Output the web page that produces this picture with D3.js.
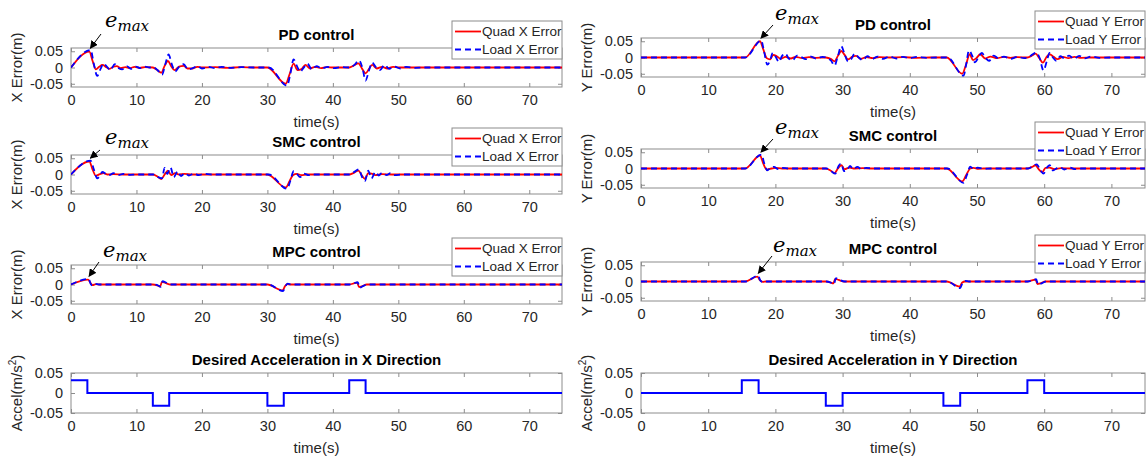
<!DOCTYPE html>
<html>
<head>
<meta charset="utf-8">
<script src="https://cdn.jsdelivr.net/npm/d3@7"></script>
<style>
  html, body { margin: 0; padding: 0; background: #fff; }
  svg { display: block; font-family: "Liberation Sans", Arial, sans-serif; }
</style>
</head>
<body>
<svg id="chart" width="1148" height="465"></svg>
<script>
// ---------------- DATA ----------------
const xTicks = [0, 10, 20, 30, 40, 50, 60, 70];
const yTicks = [-0.05, 0, 0.05];
const yTickLabels = ["-0.05", "0", "0.05"];
const titles = ["PD control", "SMC control", "MPC control"];
const accelTitles = ["Desired Acceleration in X Direction", "Desired Acceleration in Y Direction"];
const legendX = ["Quad X Error", "Load X Error"];
const legendY = ["Quad Y Error", "Load Y Error"];

// PD, X direction  [time s, error m]
const pdXQuad = [[0,0],[2.8,0.049],[3.3,0.02],[3.8,-0.006],[4.3,0.002],[4.8,0.008],[5.4,0.001],[5.9,-0.004],[6.5,0.003],[7.0,0.004],[7.6,-0.002],[8.3,0.001],[9.0,-0.002],[9.7,0.002],[10.5,-0.001],[11.3,0.001],[12.5,0],[13.2,-0.008],[13.8,-0.016],[14.3,0.005],[14.8,0.02],[15.3,0.004],[15.8,-0.008],[16.5,0.003],[17.2,0.005],[17.8,-0.003],[18.5,-0.003],[19.3,0.002],[20,0],[22,0.001],[24,-0.001],[26,0.001],[28,0],[30,0],[32.8,-0.05],[33.4,-0.02],[34,0.012],[34.6,-0.008],[35.2,-0.005],[35.8,0.008],[36.5,-0.003],[37.3,0.002],[38.2,-0.002],[39,0.001],[40,0],[42.5,0],[43.2,0.006],[43.9,0.013],[44.5,-0.005],[45,-0.018],[45.5,-0.005],[46,0.008],[46.7,-0.003],[47.5,0.002],[48.3,-0.003],[49.2,0.002],[50,0],[75,0]];
const pdXLoad = [[0,0],[3.0,0.054],[3.5,0.01],[4.0,-0.026],[4.5,-0.005],[5.0,0.012],[5.5,0.002],[6.0,-0.008],[6.7,0.01],[7.3,-0.002],[7.8,-0.006],[8.5,0.004],[9.2,-0.004],[9.9,0.003],[10.6,-0.002],[11.3,0.003],[12,0],[12.6,0],[13.3,-0.01],[13.9,-0.022],[14.4,0.01],[14.9,0.04],[15.4,0.01],[15.9,-0.012],[16.5,0.002],[17.2,0.01],[17.9,-0.006],[18.6,-0.002],[19.3,0.004],[20,-0.003],[21,0.002],[22,-0.002],[23,0.002],[24.5,-0.001],[26,0.001],[28,0],[30.2,0],[33.0,-0.056],[33.5,-0.02],[34.0,0.025],[34.5,0.005],[35,-0.013],[35.5,-0.002],[36.1,0.012],[36.8,-0.006],[37.5,0.004],[38.3,-0.003],[39.2,0.002],[40.2,-0.002],[41.3,0.001],[42.5,0],[43.3,0.008],[44.0,0.022],[44.5,0],[45.0,-0.04],[45.5,-0.01],[46.0,0.015],[46.6,0],[47.2,-0.008],[47.9,0.008],[48.6,-0.004],[49.4,0.003],[50.3,-0.003],[51.2,0.002],[52.5,-0.001],[54,0],[75,0]];

// PD, Y direction
const pdYQuad = [[0,0],[15.5,0],[17.7,0.05],[18.2,0.025],[18.7,-0.002],[19.2,-0.006],[19.7,0.008],[20.2,0.004],[20.8,-0.004],[21.5,0.002],[22.3,-0.003],[23,0.002],[24,-0.002],[25,0.001],[26,-0.001],[27.5,0],[28.3,-0.005],[28.8,-0.012],[29.3,0.005],[29.8,0.02],[30.3,0.008],[30.8,-0.006],[31.4,0.002],[32,0.005],[32.7,-0.004],[33.5,0.001],[34.5,-0.002],[35.5,0.001],[37,0],[39,0.001],[41,-0.001],[43,0],[45.5,0],[47.8,-0.05],[48.4,-0.02],[48.9,0.01],[49.4,-0.008],[49.9,-0.002],[50.5,0.01],[51.2,-0.003],[52,0.003],[53,-0.002],[54,0.002],[55,-0.001],[56,0.001],[57.5,0],[58.2,0.006],[58.7,0.012],[59.3,-0.003],[59.8,-0.016],[60.3,0],[60.8,0.01],[61.4,0.002],[62,-0.005],[62.8,0.002],[63.6,-0.002],[64.5,0.002],[65.5,-0.001],[67,0],[75,0]];
const pdYLoad = [[0,0],[15.5,0],[17.9,0.052],[18.3,0.02],[18.8,-0.022],[19.2,-0.01],[19.6,0.014],[20.1,0],[20.5,-0.014],[21.0,0.005],[21.5,0.012],[22,-0.004],[22.6,-0.008],[23.2,0.006],[23.8,0.002],[24.5,-0.005],[25.3,0.003],[26,-0.003],[27,0.002],[27.6,0],[28.3,-0.01],[28.8,-0.025],[29.3,0.005],[29.8,0.035],[30.3,0.01],[30.8,-0.012],[31.3,-0.004],[31.8,0.012],[32.4,0],[33,-0.008],[33.7,0.004],[34.4,-0.005],[35.2,0.003],[36,-0.004],[37,0.003],[38,-0.003],[39,0.002],[40,-0.002],[41,0.002],[42.5,-0.001],[44,0],[45.6,0],[48.0,-0.056],[48.4,-0.02],[48.8,0.022],[49.3,0.005],[49.7,-0.015],[50.2,0],[50.7,0.014],[51.3,-0.002],[51.8,-0.01],[52.5,0.006],[53.2,-0.003],[54,0.003],[55,-0.004],[56,0.002],[57,-0.002],[57.6,0],[58.3,0.01],[58.8,0.015],[59.3,0],[59.9,-0.04],[60.4,-0.01],[60.8,0.014],[61.3,0],[61.8,-0.01],[62.4,0.004],[63,-0.002],[63.7,0.006],[64.4,-0.004],[65.2,0.005],[66,-0.003],[67,0.003],[68.2,-0.001],[70,0],[75,0]];

// SMC, X direction
const smcXQuad = [[0,0],[2.8,0.04],[3.3,0.015],[3.8,-0.004],[4.4,0.001],[5,0.004],[5.6,0],[6.5,0.001],[8,0],[12.5,0],[13.2,-0.006],[13.8,-0.014],[14.3,0],[14.8,0.012],[15.3,-0.002],[15.9,0.004],[16.5,0],[17.3,0.002],[18.5,0],[30,0],[32.8,-0.04],[33.4,-0.02],[33.9,-0.002],[34.5,0.002],[35.2,-0.002],[36,0],[42.5,0],[43.2,0.005],[43.9,0.012],[44.4,-0.002],[44.9,-0.013],[45.4,0.004],[45.9,0.003],[46.5,-0.002],[47.5,0.001],[49,0],[75,0]];
const smcXLoad = [[0,0],[3.0,0.043],[3.5,0.015],[4.0,-0.012],[4.4,-0.004],[4.8,0.008],[5.3,0.002],[5.8,-0.002],[6.5,0.004],[7.2,-0.002],[8,0.002],[9,-0.001],[10,0],[12.6,0],[13.3,-0.008],[13.9,-0.012],[14.3,0.02],[14.7,0.002],[15.2,0.022],[15.7,-0.008],[16.3,0.01],[16.8,-0.005],[17.4,0.004],[18,-0.003],[18.8,0.003],[19.5,-0.002],[20.3,0.002],[21.5,0],[30.2,0],[33.0,-0.044],[33.5,-0.02],[34.0,0.01],[34.5,0.002],[35,-0.008],[35.6,0.003],[36.3,-0.002],[37,0],[42.6,0],[43.3,0.008],[44.0,0.016],[44.4,-0.005],[44.9,-0.02],[45.4,0.012],[45.9,-0.012],[46.5,0.008],[47,-0.003],[47.5,0.005],[48.2,-0.002],[48.8,0.004],[49.5,-0.002],[50.5,0],[75,0]];

// SMC, Y direction
const smcYQuad = [[0,0],[15.5,0],[17.7,0.04],[18.2,0.015],[18.7,-0.003],[19.4,0],[20,0.002],[21,0],[27.5,0],[28.2,-0.006],[28.8,-0.014],[29.3,0],[29.8,0.01],[30.3,-0.002],[31,0.003],[31.8,0],[33,0.001],[34,0],[45.5,0],[47.8,-0.04],[48.4,-0.02],[49,0],[49.5,0.002],[50.2,-0.001],[51,0],[57.5,0],[58.2,0.005],[58.7,0.01],[59.2,-0.003],[59.7,-0.011],[60.2,0.002],[60.8,0.003],[61.5,-0.002],[62.5,0.001],[64,0],[75,0]];
const smcYLoad = [[0,0],[15.5,0],[17.9,0.043],[18.4,0.012],[18.8,-0.006],[19.3,0.003],[19.8,0.005],[20.4,-0.002],[21,0.002],[22,0],[27.6,0],[28.3,-0.008],[28.9,-0.016],[29.4,0.008],[29.8,0.015],[30.2,-0.008],[30.7,-0.004],[31.1,0.008],[31.6,-0.002],[32.2,0.005],[32.8,-0.002],[33.5,0.002],[34.5,0],[45.6,0],[48.0,-0.044],[48.5,-0.02],[49.0,0.006],[49.5,-0.002],[50.1,0.003],[51,-0.001],[52,0],[57.6,0],[58.3,0.007],[58.9,0.013],[59.4,-0.004],[59.9,-0.016],[60.4,0.003],[60.8,0.01],[61.3,-0.006],[61.8,0],[62.3,0.004],[63,-0.003],[63.8,0.003],[64.6,-0.002],[65.5,0],[75,0]];

// MPC, X direction
const mpcXQuad = [[0,0],[2.6,0.015],[3.0,0.004],[3.3,-0.002],[3.8,0.001],[4.3,0],[12.5,0],[13.2,-0.003],[13.6,-0.006],[13.9,0.008],[14.4,0.005],[15.2,0],[30,0],[32.3,-0.018],[32.7,-0.005],[33,0.001],[33.5,0],[42.5,0],[43.3,0.004],[43.7,0.006],[44.0,-0.008],[44.4,-0.006],[45.2,0],[75,0]];
const mpcXLoad = [[0,0],[2.7,0.017],[3.0,0.002],[3.3,-0.003],[3.7,0.002],[4.3,0],[12.6,0],[13.3,-0.003],[13.7,-0.007],[14.0,0.01],[14.5,0.006],[15.3,0],[30.1,0],[32.4,-0.02],[32.8,-0.004],[33.1,0.003],[33.6,0],[42.6,0],[43.4,0.005],[43.8,0.007],[44.1,-0.01],[44.5,-0.006],[45.3,0],[75,0]];

// MPC, Y direction
const mpcYQuad = [[0,0],[15.5,0],[17.3,0.015],[17.7,0.004],[18.1,-0.001],[18.6,0],[27.5,0],[28.2,-0.003],[28.6,-0.006],[28.9,0.008],[29.4,0.005],[30.2,0],[45.5,0],[47.4,-0.016],[47.8,-0.003],[48.2,0],[57.5,0],[58.3,0.004],[58.7,0.006],[59.0,-0.008],[59.4,-0.006],[60.2,0],[75,0]];
const mpcYLoad = [[0,0],[15.6,0],[17.4,0.018],[17.8,0.002],[18.2,-0.002],[18.7,0],[27.6,0],[28.3,-0.004],[28.7,-0.008],[29.0,0.01],[29.5,0.006],[30.3,0],[45.6,0],[47.5,-0.02],[47.9,-0.002],[48.3,0.002],[48.8,0],[57.6,0],[58.4,0.005],[58.8,0.007],[59.1,-0.01],[59.5,-0.007],[60.3,0],[75,0]];

// Desired acceleration (step, value holds until next time)
const accelX = [[0,0.032],[2.5,0],[12.5,-0.032],[15,0],[30,-0.032],[32.5,0],[42.5,0.032],[45,0],[75,0]];
const accelY = [[0,0],[15,0.032],[17.5,0],[27.5,-0.032],[30,0],[45,-0.032],[47.5,0],[57.5,0.032],[60,0],[75,0]];

// e_max peak markers [time, value] for each error panel
const eMaxX = [[2.8,0.05],[2.8,0.041],[2.6,0.016]];
const eMaxY = [[17.7,0.05],[17.7,0.041],[17.3,0.016]];

// ---------------- LAYOUT ----------------
const svg = d3.select("#chart");
const FRAME = "#8c8c8c", TXT = "#262626";
const cols = [
  { x0: 71, x1: 562, tops: [48, 155, 265, 373], ylab: "X Error(m)", ylx: 22, legend: legendX,
    series: [[pdXQuad, pdXLoad], [smcXQuad, smcXLoad], [mpcXQuad, mpcXLoad]], accel: accelX, accelTitle: accelTitles[0],
    emax: eMaxX, emaxText: [[105, 27], [105, 144], [103, 257]], emaxArrow: [[101, 34], [100, 150], [99, 262]] },
  { x0: 641, x1: 1145, tops: [38, 149, 262, 373], ylab: "Y Error(m)", ylx: 592, legend: legendY,
    series: [[pdYQuad, pdYLoad], [smcYQuad, smcYLoad], [mpcYQuad, mpcYLoad]], accel: accelY, accelTitle: accelTitles[1],
    emax: eMaxY, emaxText: [[775, 20], [775, 134], [773, 252]], emaxArrow: [[773, 25], [773, 139], [772, 256]] }
];
const H = 39, HA = 40;

const defs = svg.append("defs");
defs.append("marker").attr("id", "arr").attr("viewBox", "0 0 10 10").attr("refX", 9).attr("refY", 5)
  .attr("markerWidth", 8).attr("markerHeight", 8).attr("markerUnits", "userSpaceOnUse").attr("orient", "auto")
  .append("path").attr("d", "M0,0 L10,5 L0,10 Z").attr("fill", "#000");

let clipId = 0;
function panel(col, top, h, yDomain, ticksY, tickLabelsY, ylabel, title) {
  const x = d3.scaleLinear().domain([0, 75]).range([col.x0, col.x1]);
  const y = d3.scaleLinear().domain(yDomain).range([top + h, top]);
  const g = svg.append("g");
  g.append("rect").attr("x", col.x0).attr("y", top).attr("width", col.x1 - col.x0).attr("height", h).attr("fill", "#fff");
  const bottom = g.append("g").attr("transform", `translate(0,${top + h})`)
    .call(d3.axisBottom(x).tickValues(xTicks).tickSizeInner(-4).tickSizeOuter(0).tickPadding(8));
  const topAx = g.append("g").attr("transform", `translate(0,${top})`)
    .call(d3.axisTop(x).tickValues(xTicks).tickSizeInner(-4).tickSizeOuter(0).tickFormat(""));
  const left = g.append("g").attr("transform", `translate(${col.x0},0)`)
    .call(d3.axisLeft(y).tickValues(ticksY).tickSizeInner(-4).tickSizeOuter(0).tickPadding(8)
      .tickFormat((d, i) => tickLabelsY[i]));
  const right = g.append("g").attr("transform", `translate(${col.x1},0)`)
    .call(d3.axisRight(y).tickValues(ticksY).tickSizeInner(-4).tickSizeOuter(0).tickFormat(""));
  [bottom, topAx, left, right].forEach(a => {
    a.select(".domain").remove();
    a.selectAll(".tick line").attr("stroke", FRAME);
    a.selectAll("text").attr("fill", TXT).style("font-size", "14.5px").style("font-family", "'Liberation Sans', Arial, sans-serif");
  });
  g.append("rect").attr("x", col.x0).attr("y", top).attr("width", col.x1 - col.x0).attr("height", h)
    .attr("fill", "none").attr("stroke", FRAME).attr("stroke-width", 1);
  g.append("text").attr("x", (col.x0 + col.x1) / 2).attr("y", top + h + 40).attr("text-anchor", "middle")
    .attr("fill", TXT).style("font-size", "15px").text("time(s)");
  g.append("text").attr("x", (col.x0 + col.x1) / 2).attr("y", top - 8).attr("text-anchor", "middle")
    .attr("fill", "#000").style("font-size", "15px").style("font-weight", "bold").text(title);
  const yl = g.append("text").attr("transform", `translate(${col.ylx},${top + h / 2}) rotate(-90)`)
    .attr("text-anchor", "middle").attr("fill", TXT).style("font-size", "15px");
  if (Array.isArray(ylabel)) {
    yl.append("tspan").text(ylabel[0]);
    yl.append("tspan").attr("dy", -6).style("font-size", "10px").text(ylabel[1]);
    yl.append("tspan").attr("dy", 6).text(ylabel[2]);
  } else yl.text(ylabel);
  const cid = "clip" + (clipId++);
  defs.append("clipPath").attr("id", cid).append("rect").attr("x", col.x0).attr("y", top).attr("width", col.x1 - col.x0).attr("height", h);
  const plot = g.append("g").attr("clip-path", `url(#${cid})`);
  return { x, y, g, plot };
}

cols.forEach(col => {
  for (let r = 0; r < 3; r++) {
    const top = col.tops[r];
    const p = panel(col, top, H, [-0.06, 0.06], yTicks, yTickLabels, col.ylab, titles[r]);
    const line = d3.line().x(d => p.x(d[0])).y(d => p.y(d[1])).curve(d3.curveMonotoneX);
    const [quad, load] = col.series[r];
    p.plot.append("path").attr("d", line(quad)).attr("fill", "none").attr("stroke", "#ff0000").attr("stroke-width", 1.8);
    p.plot.append("path").attr("d", line(load)).attr("fill", "none").attr("stroke", "#0000ff").attr("stroke-width", 1.8)
      .attr("stroke-dasharray", "6,4");
    // legend
    const lx = col.x1 - 110, ly = top - 27;
    const lg = svg.append("g");
    lg.append("rect").attr("x", lx).attr("y", ly).attr("width", 110).attr("height", 38)
      .attr("fill", "#fff").attr("stroke", FRAME).attr("stroke-width", 1);
    [0, 1].forEach(i => {
      const yy = ly + 10.5 + i * 18;
      lg.append("line").attr("x1", lx + 3).attr("x2", lx + 29).attr("y1", yy).attr("y2", yy)
        .attr("stroke", i === 0 ? "#ff0000" : "#0000ff").attr("stroke-width", 1.8)
        .attr("stroke-dasharray", i === 0 ? null : "6,4");
      lg.append("text").attr("x", lx + 30).attr("y", yy + 4.5).attr("fill", TXT)
        .style("font-size", "13.5px").text(col.legend[i]);
    });
    // e_max annotation
    const [tx, ty] = col.emaxText[r];
    const em = svg.append("text").attr("x", tx).attr("y", ty)
      .style("font-family", "'DejaVu Serif', 'Liberation Serif', serif").style("font-style", "italic").attr("fill", "#000");
    em.append("tspan").style("font-size", "21px").text("e");
    em.append("tspan").attr("dy", 4).style("font-size", "15px").text("max");
    const [ax, ay] = col.emaxArrow[r];
    const pk = col.emax[r];
    svg.append("line").attr("x1", ax).attr("y1", ay).attr("x2", p.x(pk[0]) + 1).attr("y2", p.y(pk[1]) - 3)
      .attr("stroke", "#000").attr("stroke-width", 1).attr("marker-end", "url(#arr)");
  }
  const top = col.tops[3];
  const p = panel(col, top, HA, [-0.05, 0.05], yTicks, yTickLabels, ["Accel(m/s", "2", ")"], col.accelTitle);
  const line = d3.line().x(d => p.x(d[0])).y(d => p.y(d[1])).curve(d3.curveStepAfter);
  p.plot.append("path").attr("d", line(col.accel)).attr("fill", "none").attr("stroke", "#0000ff").attr("stroke-width", 2);
});
</script>
</body>
</html>
